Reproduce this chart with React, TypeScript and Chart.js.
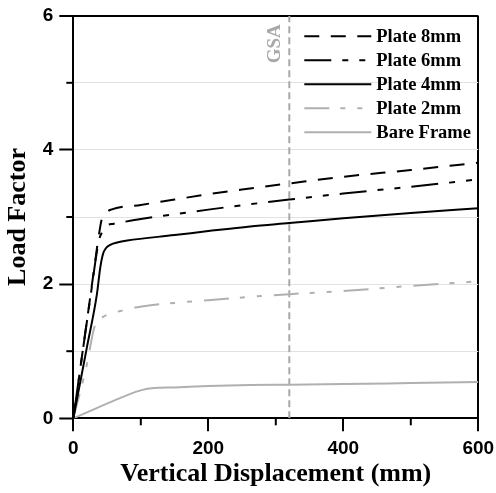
import React, { useEffect, useRef } from "react";
import { Chart, registerables } from "chart.js";

Chart.register(...registerables);

// ---- Data ----
const plate8X = [0, 25, 39, 42, 47, 56, 100, 150, 200, 250, 320, 400, 500, 600];
const plate8Y = [0, 1.8, 2.8, 2.96, 3.05, 3.11, 3.18, 3.26, 3.34, 3.41, 3.5, 3.6, 3.7, 3.81];

const plate6X = [0, 25, 38, 43, 48, 60, 71, 100, 150, 200, 262, 320, 400, 500, 600];
const plate6Y = [0, 1.78, 2.65, 2.78, 2.86, 2.9, 2.92, 2.97, 3.04, 3.11, 3.19, 3.26, 3.35, 3.45, 3.56];

const plate4X = [0, 20, 35, 40, 44, 48, 54, 65, 80, 150, 200, 262, 320, 400, 500, 600];
const plate4Y = [0, 1.05, 1.85, 2.25, 2.45, 2.53, 2.58, 2.62, 2.65, 2.73, 2.79, 2.86, 2.91, 2.98, 3.06, 3.13];

const plate2X = [0, 20, 31, 36, 44, 70, 104, 150, 200, 262, 320, 405, 509, 600];
const plate2Y = [0, 0.8, 1.35, 1.44, 1.51, 1.6, 1.67, 1.72, 1.76, 1.81, 1.85, 1.9, 1.98, 2.04];

const bareX = [0, 81, 101, 120, 150, 200, 262, 320, 400, 500, 600];
const bareY = [0, 0.35, 0.42, 0.45, 0.46, 0.48, 0.495, 0.5, 0.51, 0.525, 0.54];

const gsaX = [320, 320];
const gsaY = [0, 6];

const seriesLabels = ["Plate 8mm", "Plate 6mm", "Plate 4mm", "Plate 2mm", "Bare Frame"];
const xMajorTicks = [0, 200, 400, 600];
const xMinorTicks = [100, 300, 500];
const yMajorTicks = [0, 2, 4, 6];
const yMinorTicks = [1, 3, 5];
const gsaLabel = "GSA";

const toPts = (xs: number[], ys: number[]) => xs.map((x, i) => ({ x, y: ys[i] }));

const BLACK = "#000000";
const GRAY = "#b0b0b0";
const SERIF = "'Liberation Serif', 'Times New Roman', serif";
const SANS = "'Liberation Sans', Arial, sans-serif";

const minorTicksPlugin = {
  id: "minorTicks",
  afterDraw(chart: any) {
    const { ctx, chartArea, scales } = chart;
    ctx.save();
    ctx.strokeStyle = BLACK;
    ctx.lineWidth = 2;
    xMinorTicks.forEach((v) => {
      const px = scales.x.getPixelForValue(v);
      ctx.beginPath();
      ctx.moveTo(px, chartArea.bottom);
      ctx.lineTo(px, chartArea.bottom + 7);
      ctx.stroke();
    });
    yMinorTicks.forEach((v) => {
      const py = scales.y.getPixelForValue(v);
      ctx.beginPath();
      ctx.moveTo(chartArea.left - 7, py);
      ctx.lineTo(chartArea.left, py);
      ctx.stroke();
    });
    ctx.restore();
  },
};

const legendPlugin = {
  id: "insideLegend",
  afterDraw(chart: any) {
    const { ctx, chartArea } = chart;
    ctx.save();
    const lineStart = chartArea.right - 174;
    const lineEnd = chartArea.right - 107;
    const textX = chartArea.right - 102;
    seriesLabels.forEach((label, i) => {
      const ds = chart.data.datasets[i];
      const y = chartArea.top + 20.5 + i * 24;
      ctx.strokeStyle = ds.borderColor;
      ctx.lineWidth = ds.borderWidth;
      ctx.setLineDash(ds.borderDash || []);
      ctx.beginPath();
      ctx.moveTo(lineStart, y);
      ctx.lineTo(lineEnd, y);
      ctx.stroke();
      ctx.setLineDash([]);
      ctx.fillStyle = BLACK;
      ctx.font = `bold 18.5px ${SERIF}`;
      ctx.textAlign = "left";
      ctx.textBaseline = "middle";
      ctx.fillText(label, textX, y + 1);
    });
    // GSA label beside the vertical line
    const gx = chart.scales.x.getPixelForValue(gsaX[0]);
    ctx.translate(gx - 14, chartArea.top + 28);
    ctx.rotate(-Math.PI / 2);
    ctx.fillStyle = "#a8a8a8";
    ctx.font = `bold 19px ${SERIF}`;
    ctx.textAlign = "center";
    ctx.textBaseline = "middle";
    ctx.fillText(gsaLabel, 0, 0);
    ctx.restore();
  },
};

export default function App() {
  const canvasRef = useRef<HTMLCanvasElement | null>(null);

  useEffect(() => {
    if (!canvasRef.current) return;
    const common = { pointRadius: 0, fill: false, cubicInterpolationMode: "monotone" as const };
    const chart = new Chart(canvasRef.current, {
      type: "line",
      data: {
        datasets: [
          { ...common, label: seriesLabels[0], data: toPts(plate8X, plate8Y), borderColor: BLACK, borderWidth: 2, borderDash: [15, 11.5] },
          { ...common, label: seriesLabels[1], data: toPts(plate6X, plate6Y), borderColor: BLACK, borderWidth: 2, borderDash: [27, 11, 6, 11, 6, 11] },
          { ...common, label: seriesLabels[2], data: toPts(plate4X, plate4Y), borderColor: BLACK, borderWidth: 2 },
          { ...common, label: seriesLabels[3], data: toPts(plate2X, plate2Y), borderColor: GRAY, borderWidth: 2, borderDash: [25, 11, 5, 12, 5, 12] },
          { ...common, label: seriesLabels[4], data: toPts(bareX, bareY), borderColor: GRAY, borderWidth: 2 },
          { ...common, label: gsaLabel, data: toPts(gsaX, gsaY), borderColor: "#a8a8a8", borderWidth: 2, borderDash: [7, 4], cubicInterpolationMode: "default" },
        ] as any,
      },
      options: {
        animation: false,
        responsive: true,
        maintainAspectRatio: false,
        layout: { padding: { top: 15.7, right: 17.7, bottom: 0, left: 0 } },
        plugins: { legend: { display: false }, tooltip: { enabled: false } },
        scales: {
          x: {
            type: "linear",
            min: 0,
            max: 600,
            afterFit: (s: any) => { s.height = 74.7; s.paddingLeft = 0; s.paddingRight = 0; },
            ticks: {
              stepSize: 100,
              autoSkip: false,
              maxRotation: 0,
              padding: 6,
              color: BLACK,
              font: { family: SANS, size: 19, weight: "bold" },
              callback: (v: any) => (xMajorTicks.includes(Number(v)) ? String(v) : ""),
            },
            grid: {
              drawOnChartArea: true,
              color: (c: any) => (c.tick && c.tick.value === 600 ? BLACK : "rgba(0,0,0,0)"),
              lineWidth: 2,
              tickColor: (c: any) => (c.tick && xMajorTicks.includes(c.tick.value) ? BLACK : "rgba(0,0,0,0)"),
              tickLength: 13,
              tickWidth: 2,
            },
            border: { display: true, color: BLACK, width: 2 },
            title: {
              display: true,
              text: "Vertical Displacement (mm)",
              color: BLACK,
              font: { family: SERIF, size: 26, weight: "bold" },
              padding: { top: 0, bottom: 3 },
            },
          },
          y: {
            type: "linear",
            min: 0,
            max: 6,
            afterFit: (s: any) => { s.width = 73.3; s.paddingTop = 0; s.paddingBottom = 0; },
            ticks: {
              stepSize: 1,
              autoSkip: false,
              padding: 6,
              color: BLACK,
              font: { family: SANS, size: 19, weight: "bold" },
              callback: (v: any) => (yMajorTicks.includes(Number(v)) ? String(v) : ""),
            },
            grid: {
              color: (c: any) => {
                const v = c.tick ? c.tick.value : -1;
                if (v === 6) return BLACK;
                if (v === 0) return "rgba(0,0,0,0)";
                return "#e2e2e2";
              },
              lineWidth: (c: any) => (c.tick && c.tick.value === 6 ? 2 : 1),
              tickColor: (c: any) => (c.tick && yMajorTicks.includes(c.tick.value) ? BLACK : "rgba(0,0,0,0)"),
              tickLength: 14,
              tickWidth: 2,
            },
            border: { display: true, color: BLACK, width: 2 },
            title: {
              display: true,
              text: "Load Factor",
              color: BLACK,
              font: { family: SERIF, size: 26, weight: "bold" },
              padding: { top: 3, bottom: 0 },
            },
          },
        },
      },
      plugins: [minorTicksPlugin, legendPlugin],
    });
    return () => chart.destroy();
  }, []);

  return (
    <div style={{ position: "fixed", left: 0, top: 0, width: 496, height: 493, background: "#fff" }}>
      <canvas ref={canvasRef} />
    </div>
  );
}
